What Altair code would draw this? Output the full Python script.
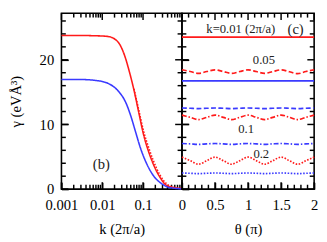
import altair as alt
import pandas as pd

# ---------------- data ----------------
# panel (b): gamma vs k (log axis)
k_red = [0.001, 0.003, 0.008, 0.0139, 0.024, 0.0347, 0.0456, 0.06, 0.0789, 0.1037, 0.136, 0.179, 0.259, 0.373, 0.55, 0.9]
g_red = [23.75, 23.75, 23.7, 23.6, 22.8, 20.8, 18.3, 15.3, 11.8, 8.35, 5.85, 3.85, 1.85, 0.6, 0.25, 0.1]
k_red_tail = [0.06, 0.0789, 0.1037, 0.136, 0.179, 0.259, 0.373, 0.55, 0.9]
g_red_tail = [15.5, 12.2, 8.9, 6.5, 4.4, 2.2, 0.85, 0.3, 0.1]
k_blue = [0.001, 0.003, 0.008, 0.0139, 0.024, 0.038, 0.0499, 0.0656, 0.0865, 0.1245, 0.179, 0.283, 0.447, 0.9]
g_blue = [16.95, 16.95, 16.75, 16.35, 15.25, 13.35, 11.35, 8.85, 6.35, 3.85, 2.1, 0.85, 0.25, 0.05]

# panel (c): gamma vs theta
theta = [0, 0.125, 0.25, 0.375, 0.5, 0.625, 0.75, 0.875, 1.0, 1.125, 1.25, 1.375, 1.5, 1.625, 1.75, 1.875, 2.0]
theta_flat = [0, 2]
red_k001 = [23.5, 23.5]
blue_k001 = [16.75, 16.75]
red_k005 = [18.45, 18.18, 17.9, 18.18, 18.45, 18.18, 17.9, 18.18, 18.45, 18.18, 17.9, 18.18, 18.45, 18.15, 17.85, 18.18, 18.45]
blue_k005 = [12.55, 12.5, 12.45, 12.5, 12.55, 12.5, 12.45, 12.5, 12.55, 12.5, 12.45, 12.5, 12.55, 12.5, 12.45, 12.5, 12.55]
red_k01 = [11.45, 11.1, 10.75, 11.1, 11.45, 11.1, 10.75, 11.1, 11.45, 11.1, 10.75, 11.1, 11.45, 11.1, 10.75, 11.1, 11.45]
blue_k01 = [7.05, 7.0, 6.92, 7.0, 7.05, 7.0, 6.92, 7.0, 7.05, 7.0, 6.92, 7.0, 7.05, 7.0, 6.92, 7.0, 7.05]
red_k02 = [4.95, 4.4, 3.85, 4.4, 4.95, 4.4, 3.85, 4.4, 4.95, 4.4, 3.85, 4.4, 4.95, 4.4, 3.85, 4.4, 4.95]
blue_k02 = [2.5, 2.45, 2.4, 2.45, 2.5, 2.45, 2.4, 2.45, 2.5, 2.45, 2.4, 2.45, 2.5, 2.45, 2.4, 2.45, 2.5]

y_major = [0, 10, 20]
y_minor = [2, 4, 6, 8, 12, 14, 16, 18, 22, 24, 26]
k_major = [0.001, 0.01, 0.1]
k_minor = [0.002, 0.003, 0.004, 0.005, 0.006, 0.007, 0.008, 0.009,
           0.02, 0.03, 0.04, 0.05, 0.06, 0.07, 0.08, 0.09,
           0.2, 0.3, 0.4, 0.5, 0.6, 0.7, 0.8, 0.9]
t_major = [0, 0.5, 1, 1.5, 2]
t_minor = [0.1, 0.2, 0.3, 0.4, 0.6, 0.7, 0.8, 0.9, 1.1, 1.2, 1.3, 1.4, 1.6, 1.7, 1.8, 1.9]

# ---------------- style ----------------
RED = "#ff1a1a"
BLUE = "#3a3aff"
FONT = "Liberation Serif"
H = 181
W1 = 124
W2 = 136
MAJ = 7
MIN = 4.5
YMAX = 27.2

yscale = alt.Scale(domain=[0, YMAX], nice=False, zero=False)
xscale_b = alt.Scale(type="log", domain=[0.001, 0.9], nice=False)
xscale_c = alt.Scale(domain=[0, 2], nice=False, zero=False)

# axes: ticks drawn inward by shifting the axis line inside the frame (negative offset)
AX = dict(ticks=True, tickSize=MAJ, tickWidth=1.5, tickColor="black", offset=-MAJ,
          domain=False, grid=False, labelFont=FONT, labelFontSize=15,
          titleFont=FONT, titleFontSize=15, titleFontWeight="normal")

yaxis_b = alt.Axis(values=y_major, title="γ (eVÅ³)", labelPadding=8, titlePadding=16, **AX)
yaxis_c = alt.Axis(values=y_major, title=None, labels=False, **AX)
xaxis_b = alt.Axis(values=k_major, format="~g", title="k (2π/a)", labelPadding=9,
                   labelFlush=False, titlePadding=10, **AX)
xaxis_c = alt.Axis(values=t_major, format="~g", title="θ (π)", labelPadding=9,
                   labelFlush=False, titlePadding=10, **AX)


def X(scale, axis):
    return alt.X("x:Q", scale=scale, axis=axis)


def Y(axis):
    return alt.Y("y:Q", scale=yscale, axis=axis)


TICK = dict(color="#000000", strokeWidth=1.5, opacity=1)


def yticks(ya, W):
    """inward ticks on the left and right frame edges"""
    layers = []
    for vals, L in ((y_major, MAJ), (y_minor, MIN)):
        d = pd.DataFrame({"y": vals})
        layers.append(alt.Chart(d).mark_rule(**TICK).encode(
            y=Y(ya), x=alt.value(0), x2=alt.value(L)))
        layers.append(alt.Chart(d).mark_rule(**TICK).encode(
            y=Y(ya), x=alt.value(W), x2=alt.value(W - L)))
    return layers


def xticks(vals_major, vals_minor, xs, xa):
    """inward ticks on the bottom and top frame edges"""
    layers = []
    for vals, L in ((vals_major, MAJ), (vals_minor, MIN)):
        d = pd.DataFrame({"x": vals})
        layers.append(alt.Chart(d).mark_rule(**TICK).encode(
            x=X(xs, xa), y=alt.value(H), y2=alt.value(H - L)))
        layers.append(alt.Chart(d).mark_rule(**TICK).encode(
            x=X(xs, xa), y=alt.value(0), y2=alt.value(L)))
    return layers


dash_scale = alt.Scale(domain=["solid", "dash", "dashdot", "dot"],
                       range=[[1, 0], [5, 2.5], [5, 2, 1.5, 2], [1.6, 1.6]])

# ---------------- panel (b) ----------------
df_b = pd.concat([
    pd.DataFrame({"x": k_red, "y": g_red, "s": "red", "c": RED, "d": "solid"}),
    pd.DataFrame({"x": k_red_tail, "y": g_red_tail, "s": "red2", "c": RED, "d": "dot"}),
    pd.DataFrame({"x": k_blue, "y": g_blue, "s": "blue", "c": BLUE, "d": "solid"}),
])

lines_b = alt.Chart(df_b).mark_line(interpolate="monotone", strokeWidth=1.6).encode(
    x=X(xscale_b, xaxis_b), y=Y(yaxis_b),
    color=alt.Color("c:N", scale=None),
    strokeDash=alt.StrokeDash("d:N", scale=dash_scale, legend=None),
    detail="s:N")

text_b = alt.Chart(pd.DataFrame({"x": [0.0095], "y": [3.9], "t": ["(b)"]})).mark_text(
    font=FONT, fontSize=15, color="#222").encode(x=X(xscale_b, xaxis_b), y=Y(yaxis_b), text="t:N")

left = alt.layer(*yticks(yaxis_b, W1),
                 *xticks(k_major, k_minor, xscale_b, xaxis_b),
                 lines_b, text_b).properties(width=W1, height=H)

# ---------------- panel (c) ----------------
df_c = pd.concat([
    pd.DataFrame({"x": theta_flat, "y": red_k001, "s": "r001", "c": RED, "d": "solid"}),
    pd.DataFrame({"x": theta_flat, "y": blue_k001, "s": "b001", "c": BLUE, "d": "solid"}),
    pd.DataFrame({"x": theta, "y": red_k005, "s": "r005", "c": RED, "d": "dash"}),
    pd.DataFrame({"x": theta, "y": blue_k005, "s": "b005", "c": BLUE, "d": "dash"}),
    pd.DataFrame({"x": theta, "y": red_k01, "s": "r01", "c": RED, "d": "dashdot"}),
    pd.DataFrame({"x": theta, "y": blue_k01, "s": "b01", "c": BLUE, "d": "dashdot"}),
    pd.DataFrame({"x": theta, "y": red_k02, "s": "r02", "c": RED, "d": "dot"}),
    pd.DataFrame({"x": theta, "y": blue_k02, "s": "b02", "c": BLUE, "d": "dot"}),
])

lines_c = alt.Chart(df_c).mark_line(interpolate="monotone", strokeWidth=1.7).encode(
    x=X(xscale_c, xaxis_c), y=Y(yaxis_c),
    color=alt.Color("c:N", scale=None),
    strokeDash=alt.StrokeDash("d:N", scale=dash_scale, legend=None),
    detail="s:N")

lab_x = [0.89, 1.24, 0.97, 1.2]
lab_y = [24.8, 20.0, 9.25, 5.4]
lab_t = ["k=0.01 (2π/a)", "0.05", "0.1", "0.2"]
text_c = alt.Chart(pd.DataFrame({"x": lab_x, "y": lab_y, "t": lab_t})).mark_text(
    font=FONT, fontSize=13, color="#222").encode(x=X(xscale_c, xaxis_c), y=Y(yaxis_c), text="t:N")
text_c2 = alt.Chart(pd.DataFrame({"x": [1.72], "y": [24.8], "t": ["(c)"]})).mark_text(
    font=FONT, fontSize=15, color="#222").encode(x=X(xscale_c, xaxis_c), y=Y(yaxis_c), text="t:N")

right = alt.layer(*yticks(yaxis_c, W2),
                  *xticks(t_major, t_minor, xscale_c, xaxis_c),
                  lines_c, text_c, text_c2).properties(width=W2, height=H)

chart = alt.hconcat(left, right, spacing=0, bounds="flush").properties(
    padding={"left": 0, "top": 0, "right": 0, "bottom": 0}
).configure_view(stroke="black", strokeWidth=1.6)

chart.save("out.html", embed_options={"renderer": "svg", "actions": False})
